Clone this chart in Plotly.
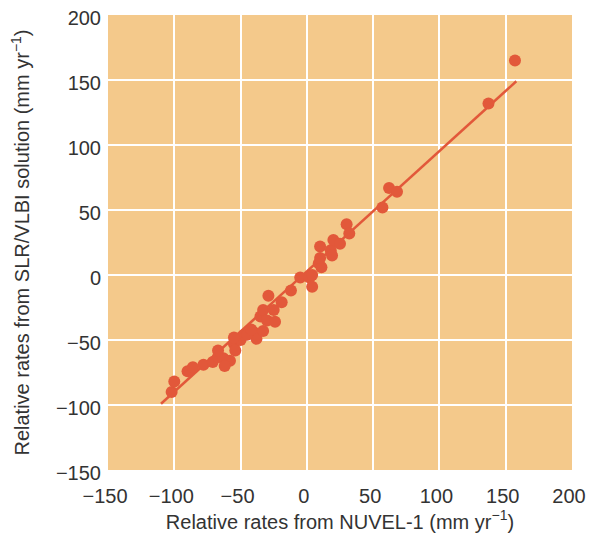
import plotly.graph_objects as go

# Data (mm/yr)
nuvel_rates = [-102, -100, -90, -86, -78, -71, -67, -63, -58, -62, -55, -54, -50, -47, -43, -40,
               -38, -35, -33, -30, -29, -25, -24, -19, -12, -5, 2, 4, 4, 9, 10, 11, 10, 18, 19,
               20, 25, 30, 32, 57, 62, 68, 137, 157, -67, -45, -33, -42, -55]
slr_vlbi_rates = [-90, -82, -74, -71, -69, -67, -63, -64, -66, -70, -53, -58, -50, -46, -44, -44,
                  -49, -32, -27, -35, -16, -27, -36, -21, -12, -2, -2, -9, 0, 9, 22, 6, 13, 19, 15,
                  27, 24, 39, 32, 52, 67, 64, 132, 165, -58, -46, -43, -42, -48]
fit_x = [-110, 158]
fit_y = [-99, 149]

x_ticks = [-150, -100, -50, 0, 50, 100, 150, 200]
y_ticks = [-150, -100, -50, 0, 50, 100, 150, 200]

red = "#E2583A"
font_family = "Liberation Sans, Arial, sans-serif"

fig = go.Figure()
fig.add_trace(go.Scatter(x=fit_x, y=fit_y, mode="lines",
                         line=dict(color=red, width=2.5), hoverinfo="skip"))
fig.add_trace(go.Scatter(x=nuvel_rates, y=slr_vlbi_rates, mode="markers",
                         marker=dict(color=red, size=12, line=dict(width=0))))

fig.update_layout(
    width=589, height=541,
    margin=dict(l=108, r=17, t=15, b=71, autoexpand=False),
    paper_bgcolor="white",
    plot_bgcolor="#F4C98B",
    showlegend=False,
    font=dict(family=font_family, size=20, color="#333333"),
)
fig.update_xaxes(range=[-150, 200], tickvals=x_ticks, showgrid=True, gridcolor="white",
                 gridwidth=1.5, zeroline=False, showline=False, automargin=False,
                 ticks="outside", ticklen=8, tickcolor="rgba(0,0,0,0)",
                 ticklabelshift=-3,
                 title=dict(text="Relative rates from NUVEL-1 (mm yr<sup>−1</sup>)",
                            font=dict(size=20), standoff=8))
fig.update_yaxes(range=[-150, 200], tickvals=y_ticks, showgrid=True, gridcolor="white",
                 gridwidth=1.5, zeroline=False, showline=False, automargin=False,
                 ticks="outside", ticklen=2, tickcolor="rgba(0,0,0,0)",
                 ticklabelshift=3,
                 title=dict(text="Relative rates from SLR/VLBI solution (mm yr<sup>−1</sup>)",
                            font=dict(size=20), standoff=20))

fig.write_html("out.html",
               config={"displayModeBar": False},
               post_script="document.body.style.margin='0';document.body.style.overflow='hidden';")
